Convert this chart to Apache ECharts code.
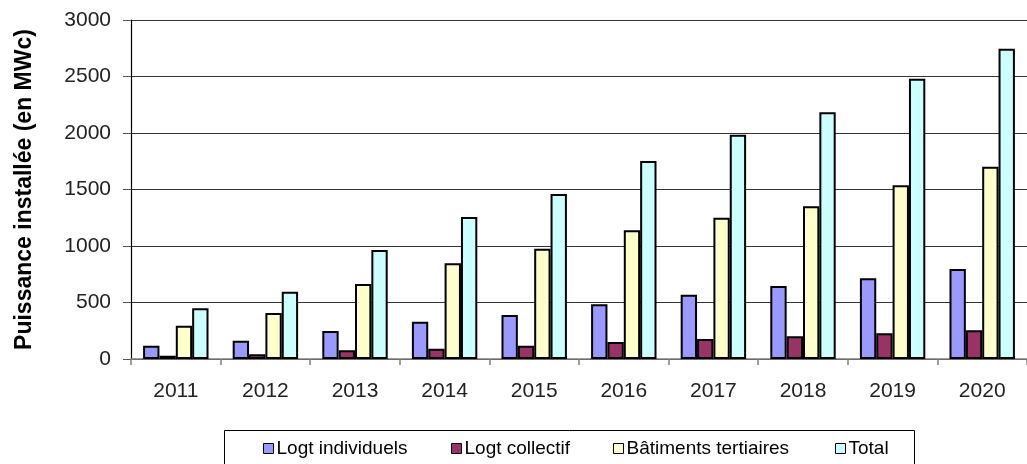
<!DOCTYPE html>
<html><head><meta charset="utf-8">
<script src="https://cdn.jsdelivr.net/npm/echarts@6/dist/echarts.min.js"></script>
<style>html,body{margin:0;padding:0;background:#fff}#c{width:1027px;height:464px}</style>
</head><body><div id="c"></div>
<script>
const categories = ['2011','2012','2013','2014','2015','2016','2017','2018','2019','2020'];
const seriesNames = ['Logt individuels','Logt collectif','Bâtiments tertiaires','Total'];
const logtIndividuels = [117,162,248,330,389,484,569,646,714,796];
const logtCollectif = [29,41,77,91,118,150,177,201,227,254];
const batimentsTertiaires = [295,407,664,847,975,1139,1250,1351,1537,1702];
const total = [449,596,965,1257,1460,1752,1985,2183,2481,2746];
const yTicks = [0,500,1000,1500,2000,2500,3000];
const colors = ['#9999FF','#993366','#FFFFCC','#CCFFFF'];
const values = [logtIndividuels, logtCollectif, batimentsTertiaires, total];
const font = 'Liberation Sans, Arial, sans-serif';
const chart = echarts.init(document.getElementById('c'), null, {renderer:'canvas'});
const legendLefts = [263, 451, 613, 835];
chart.setOption({
  animation:false,
  textStyle:{fontFamily:font},
  grid:{left:131, top:20, width:905, height:339, containLabel:false},
  xAxis:{type:'category', data:categories,
    axisLine:{lineStyle:{color:'#808080', width:1.5}},
    axisTick:{show:true, length:6, lineStyle:{color:'#808080', width:1.5}},
    axisLabel:{fontSize:21, color:'#222', margin:22, fontFamily:font}},
  yAxis:{type:'value', min:yTicks[0], max:yTicks[yTicks.length-1], interval:500,
    name:'Puissance installée (en MWc)', nameLocation:'middle', nameRotate:90, nameGap:95,
    nameTextStyle:{fontSize:23, fontWeight:'bold', color:'#000', fontFamily:font},
    axisLine:{show:true, lineStyle:{color:'#000', width:1.2}},
    axisTick:{show:true, length:8, lineStyle:{color:'#555'}},
    axisLabel:{fontSize:21, color:'#222', margin:20, fontFamily:font, formatter:v=>String(v)},
    splitLine:{lineStyle:{color:'#333', width:1}}},
  legend: seriesNames.map((n,i)=>({data:[n], left:legendLefts[i], top:439, itemWidth:10, itemHeight:10,
    icon:'rect', itemGap:0, padding:0, textStyle:{fontSize:19, color:'#000', fontFamily:font, padding:[0,0,0,-2]},
    itemStyle:{borderColor:'#000', borderWidth:1}})),
  graphic:[{type:'rect', left:222, top:428, shape:{width:690, height:60}, style:{fill:'none', stroke:'#000', lineWidth:1}}],
  series: seriesNames.map((n,i)=>({name:n, type:'bar', data:values[i], barGap:'0%', barCategoryGap:'27%',
    itemStyle:{color:colors[i], borderColor:'#000', borderWidth:2}}))
});
</script></body></html>
